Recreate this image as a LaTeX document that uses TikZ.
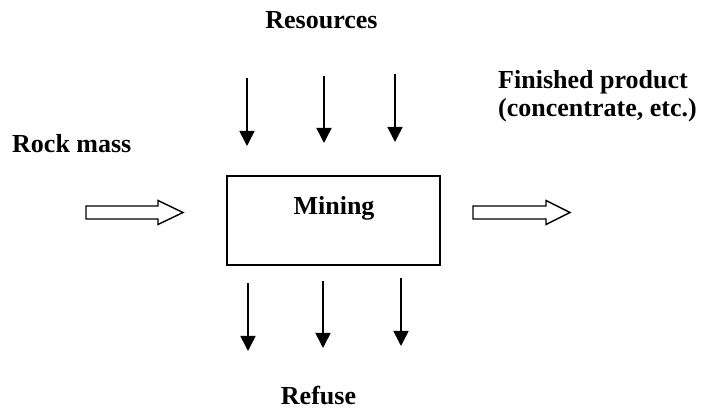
\documentclass[tikz,border=0pt]{standalone}
\usepackage{fontspec}
\setmainfont{Liberation Serif}
\usetikzlibrary{positioning, arrows.meta, calc}

\begin{document}
\begin{tikzpicture}[
        x=1pt, y=-1pt,
        >={Triangle[length=15pt, width=15pt]},
        box/.style={draw, line width=2pt, minimum width=213pt, minimum height=89pt, inner sep=0pt},
        lbl/.style={font=\fontsize{26}{28}\selectfont\bfseries, inner sep=0pt},
        flow/.style={->, line width=1.5pt},
        hollow/.style={draw, line width=1.4pt, fill=white, line join=miter}
    ]
    \useasboundingbox (0,0) rectangle (702,411);

    % ======================================
    % Process box and labels
    % ======================================
    \node[box] (mining) at (333.5,220.5) {};
    \node[lbl, anchor=base] (miningtxt) at (334,215) {Mining};

    \node[lbl, anchor=base] (resources) at (321.5,29) {Resources};
    \node[lbl, anchor=base west] (rock) at (12,153) {Rock mass};
    \node[lbl, anchor=base west, align=left] (product) at (498,117) {Finished product\\(concentrate, etc.)};
    \node[lbl, anchor=base] (refuse) at (318.5,405) {Refuse};

    % ======================================
    % Resources in (top) and refuse out (bottom)
    % ======================================
    \foreach \i/\x/\ys/\ye in {1/247/78/146, 2/324/76/143, 3/395/74/142}
    {
        \coordinate (res-\i) at (\x,\ys);
        \coordinate (resend-\i) at (\x,\ye);
        \draw[flow] (res-\i) -- (resend-\i);
    }

    \foreach \i/\x/\ys/\ye in {1/248/283/351, 2/323/281/348, 3/401/278/346}
    {
        \coordinate (ref-\i) at (\x,\ys);
        \coordinate (refend-\i) at (\x,\ye);
        \draw[flow] (ref-\i) -- (refend-\i);
    }

    % ======================================
    % Hollow arrows: rock mass in, product out
    % ======================================
    \coordinate (rocktail) at (86,212.5);
    \coordinate (prodtail) at (473,212.5);

    \draw[hollow] (rocktail) ++(0,-6.5) -- ++(72,0) -- ++(0,-5.5) -- ++(25,12)
        -- ++(-25,12) -- ++(0,-5.5) -- ++(-72,0) -- cycle;
    \draw[hollow] (prodtail) ++(0,-6.5) -- ++(73,0) -- ++(0,-5.5) -- ++(24,12)
        -- ++(-24,12) -- ++(0,-5.5) -- ++(-73,0) -- cycle;

\end{tikzpicture}
\end{document}
